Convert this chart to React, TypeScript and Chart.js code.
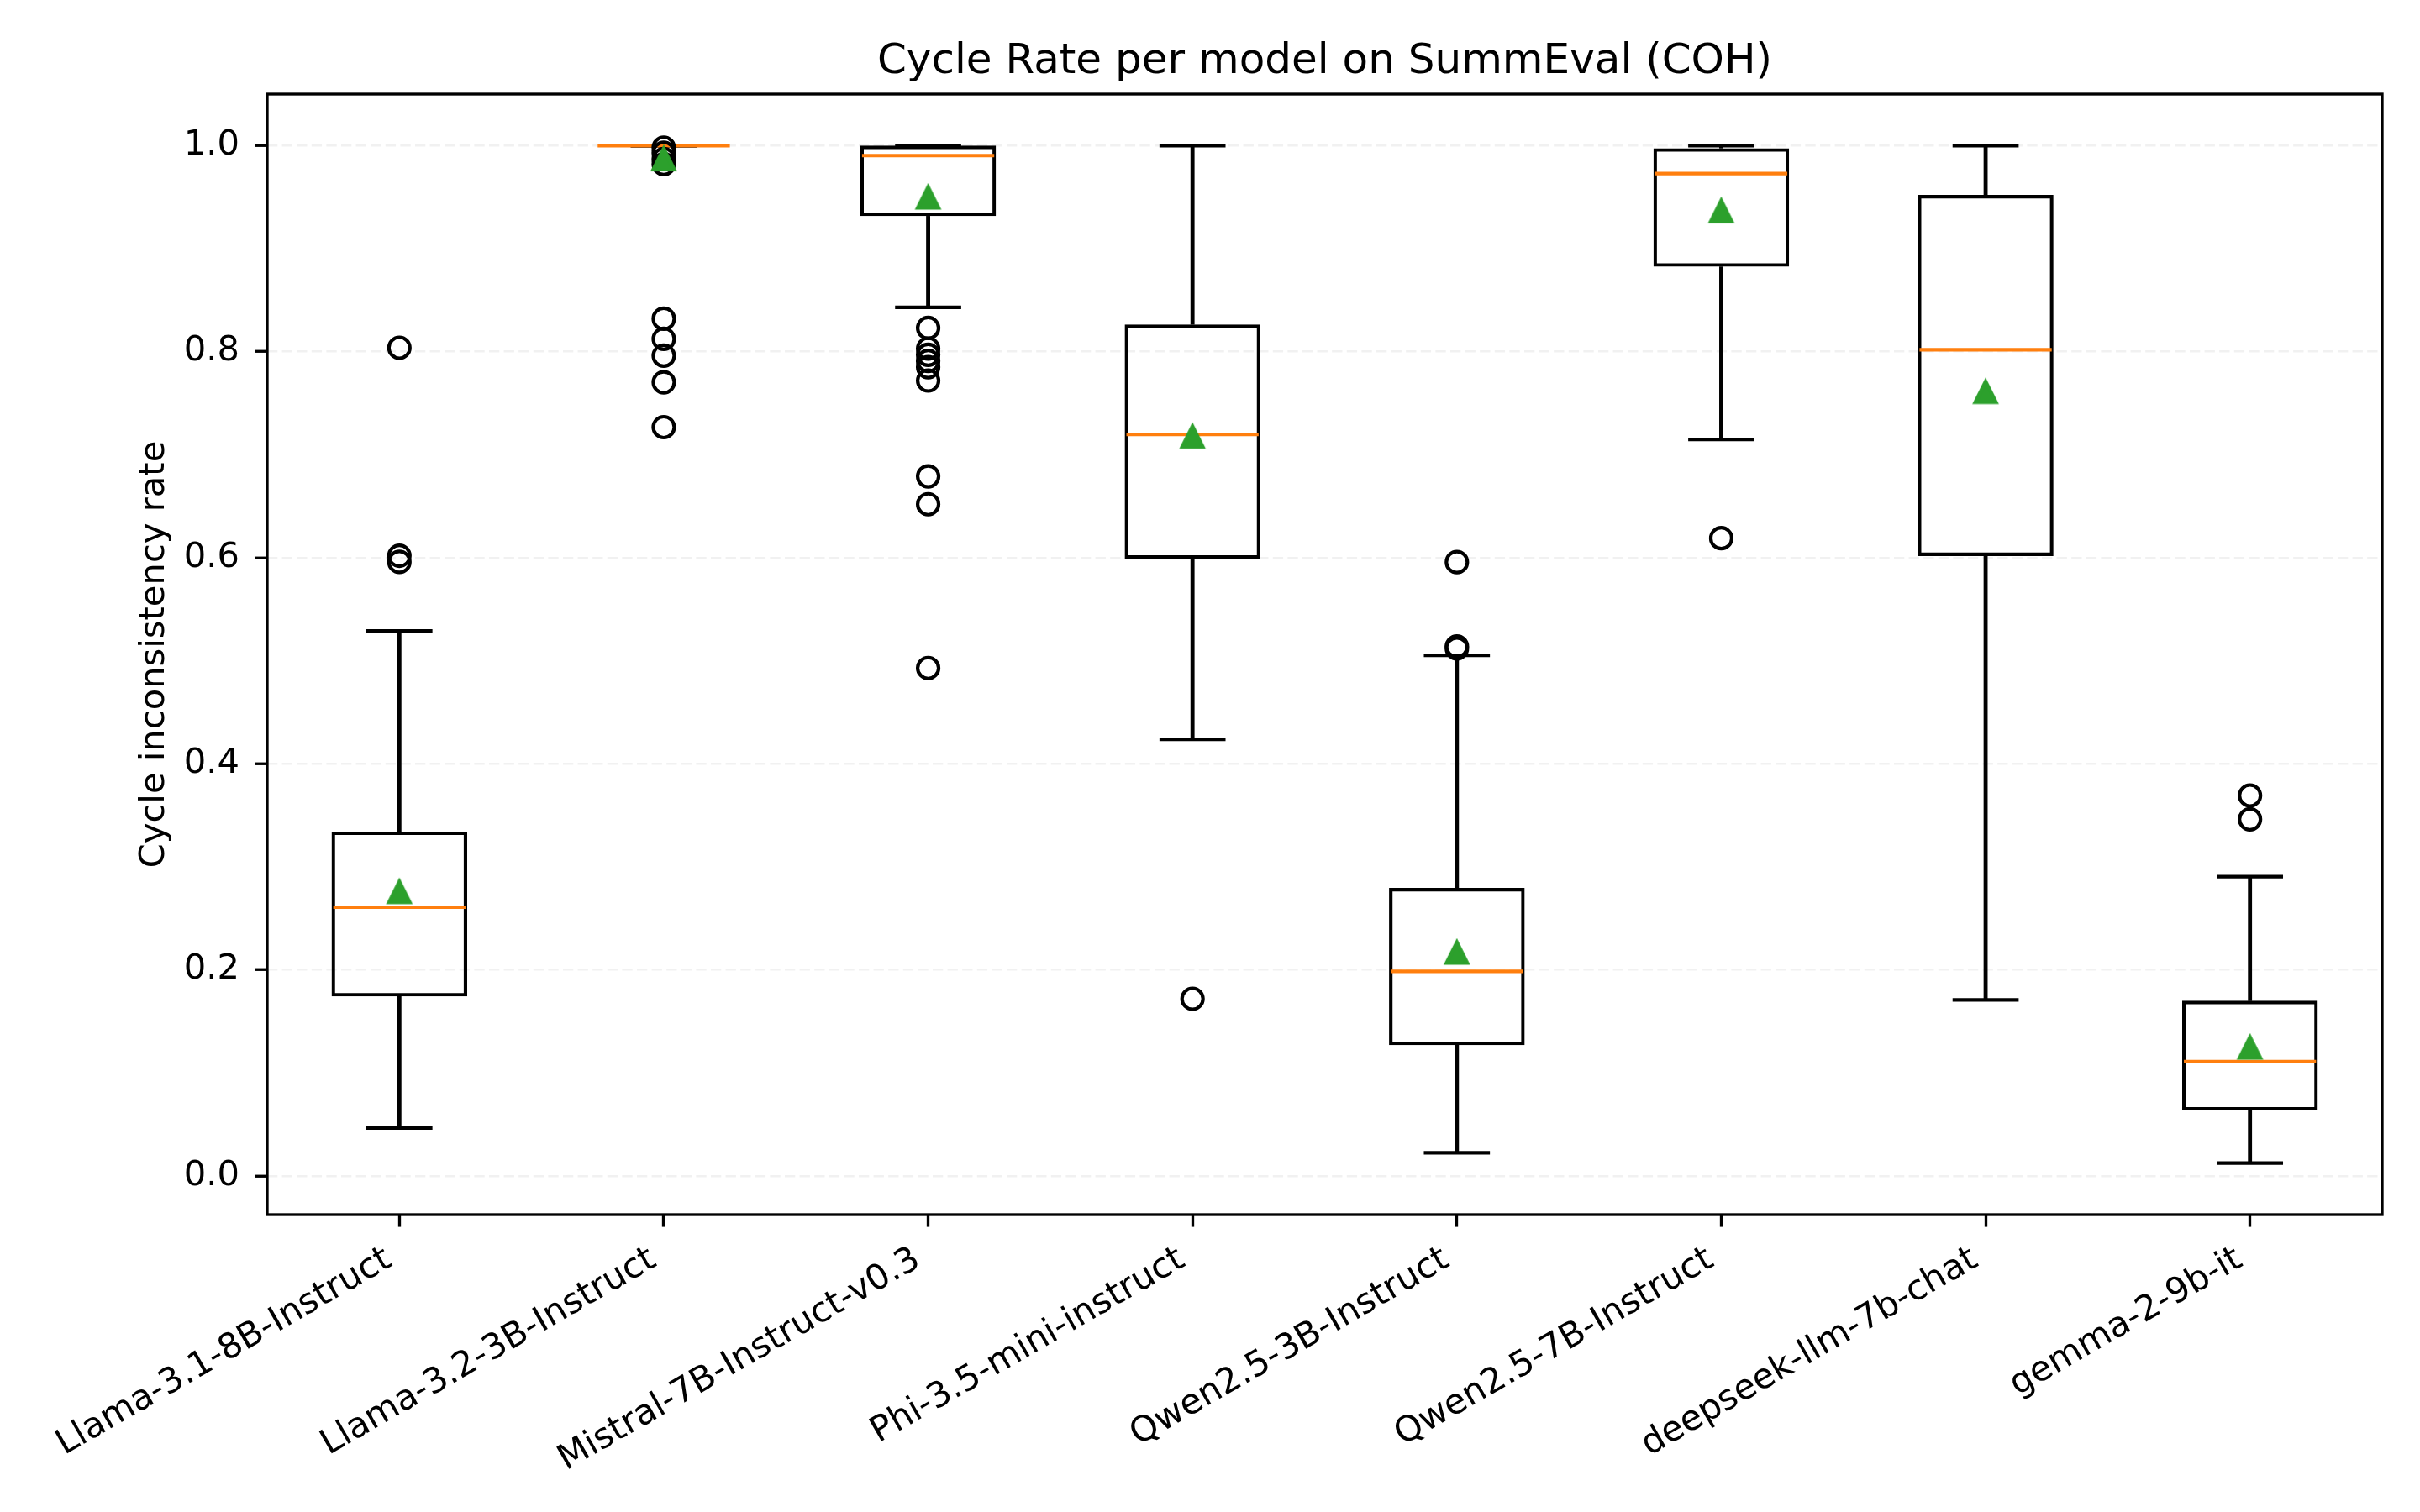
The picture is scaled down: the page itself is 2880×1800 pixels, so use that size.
import React, { useEffect, useRef } from 'react';
import { Chart, registerables } from 'chart.js';

Chart.register(...registerables);

// ---- data ----
const MODELS = [
  'Llama-3.1-8B-Instruct',
  'Llama-3.2-3B-Instruct',
  'Mistral-7B-Instruct-v0.3',
  'Phi-3.5-mini-instruct',
  'Qwen2.5-3B-Instruct',
  'Qwen2.5-7B-Instruct',
  'deepseek-llm-7b-chat',
  'gemma-2-9b-it',
];
const WHISKER_LOW = [0.0465, 1.0, 0.843, 0.4237, 0.0225, 0.7148, 0.1709, 0.0125];
const Q1 = [0.1742, 1.0, 0.9315, 0.599, 0.127, 0.8824, 0.6016, 0.0635];
const MEDIAN = [0.2609, 1.0, 0.9903, 0.7197, 0.1986, 0.9728, 0.8019, 0.1111];
const Q3 = [0.3343, 1.0, 1.0, 0.8265, 0.2796, 0.9975, 0.9522, 0.1701];
const WHISKER_HIGH = [0.529, 1.0, 1.0, 1.0, 0.5053, 1.0, 1.0, 0.2905];
const MEAN = [0.2757, 0.9871, 0.9497, 0.7176, 0.2168, 0.9366, 0.761, 0.1247];
const OUTLIERS: number[][] = [
  [0.8038, 0.602, 0.596],
  [0.998, 0.993, 0.987, 0.982, 0.832, 0.8124, 0.7961, 0.7703, 0.7268],
  [0.823, 0.803, 0.797, 0.791, 0.785, 0.772, 0.679, 0.652, 0.493],
  [0.172],
  [0.5958, 0.514, 0.512],
  [0.619],
  [],
  [0.3693, 0.3462],
];
const Y_TICKS = [0.0, 0.2, 0.4, 0.6, 0.8, 1.0];
const Y_MIN = -0.0375;
const Y_MAX = 1.05;

const TITLE = 'Cycle Rate per model on SummEval (COH)';
const Y_LABEL = 'Cycle inconsistency rate';

// ---- style ----
const PT = 300 / 72;
const LW = 1.0 * PT;
const SPINE_W = 0.8 * PT;
const TICK_LEN = 3.5 * PT;
const FONT = 'DejaVu Sans';
const ORANGE = '#ff7f0e';
const GREEN = '#2ca02c';

function makeTriangle(size: number, lw: number, color: string): HTMLCanvasElement {
  const dim = Math.ceil(size + 2 * lw + 4);
  const c = document.createElement('canvas');
  c.width = dim;
  c.height = dim;
  const ctx = c.getContext('2d')!;
  const cx = dim / 2;
  const h = size / 2;
  ctx.beginPath();
  ctx.moveTo(cx, cx - h);
  ctx.lineTo(cx - h, cx + h);
  ctx.lineTo(cx + h, cx + h);
  ctx.closePath();
  ctx.fillStyle = color;
  ctx.fill();
  ctx.lineWidth = lw;
  ctx.strokeStyle = color;
  ctx.stroke();
  return c;
}

const framePlugin = {
  id: 'frame',
  afterDraw(chart: any) {
    const { ctx, chartArea } = chart;
    const { left, top, right, bottom } = chartArea;
    ctx.save();
    ctx.strokeStyle = '#000';
    ctx.lineWidth = SPINE_W;
    ctx.strokeRect(left, top, right - left, bottom - top);
    ctx.restore();
  },
};

export default function App() {
  const ref = useRef<HTMLCanvasElement>(null);

  useEffect(() => {
    const tri = makeTriangle(6 * PT, LW, GREEN);
    const outlierPoints: { x: string; y: number }[] = [];
    OUTLIERS.forEach((arr, i) => arr.forEach((v) => outlierPoints.push({ x: MODELS[i], y: v })));

    const chart = new Chart(ref.current!, {
      type: 'bar',
      data: {
        labels: MODELS,
        datasets: [
          {
            type: 'bar',
            data: MODELS.map((_, i) => [WHISKER_LOW[i], Q1[i]]) as any,
            backgroundColor: '#000',
            borderWidth: 0,
            barThickness: LW,
            grouped: false,
            order: 6,
          } as any,
          {
            type: 'bar',
            data: MODELS.map((_, i) => [Q3[i], WHISKER_HIGH[i]]) as any,
            backgroundColor: '#000',
            borderWidth: 0,
            barThickness: LW,
            grouped: false,
            order: 6,
          } as any,
          {
            type: 'bar',
            data: MODELS.map((_, i) => [Q1[i], Q3[i]]) as any,
            backgroundColor: 'rgba(0,0,0,0)',
            borderColor: '#000',
            borderWidth: LW,
            borderSkipped: false,
            barPercentage: 0.5133,
            categoryPercentage: 1,
            grouped: false,
            order: 5,
          } as any,
          {
            type: 'line',
            data: [
              ...MODELS.map((m, i) => ({ x: m, y: WHISKER_LOW[i] })),
              ...MODELS.map((m, i) => ({ x: m, y: WHISKER_HIGH[i] })),
            ] as any,
            showLine: false,
            pointStyle: 'line',
            pointRadius: 0.125 * 314.6,
            pointBorderWidth: LW,
            pointBorderColor: '#000',
            pointBackgroundColor: '#000',
            order: 4,
          } as any,
          {
            type: 'line',
            data: MODELS.map((m, i) => ({ x: m, y: MEDIAN[i] })) as any,
            showLine: false,
            pointStyle: 'line',
            pointRadius: 0.25 * 314.6,
            pointBorderWidth: LW,
            pointBorderColor: ORANGE,
            pointBackgroundColor: ORANGE,
            order: 3,
          } as any,
          {
            type: 'line',
            data: outlierPoints as any,
            showLine: false,
            pointStyle: 'circle',
            pointRadius: 3 * PT,
            pointBorderWidth: LW,
            pointBorderColor: '#000',
            pointBackgroundColor: 'rgba(0,0,0,0)',
            order: 2,
          } as any,
          {
            type: 'line',
            data: MODELS.map((m, i) => ({ x: m, y: MEAN[i] })) as any,
            showLine: false,
            pointStyle: tri,
            pointRadius: 15,
            order: 1,
          } as any,
        ],
      },
      options: {
        animation: false,
        responsive: false,
        devicePixelRatio: 1,
        events: [],
        layout: { autoPadding: false, padding: { left: 0, right: 45, top: 0, bottom: 0 } },
        plugins: {
          legend: { display: false },
          tooltip: { enabled: false },
          title: {
            display: true,
            text: TITLE,
            color: '#000',
            font: { family: FONT, size: 12 * PT, weight: 'normal' },
            padding: { top: 44, bottom: 8 },
            fullSize: false,
          } as any,
        },
        scales: {
          x: {
            type: 'category',
            offset: true,
            afterFit: (scale: any) => {
              scale.height = 354;
              scale.paddingLeft = 0;
              scale.paddingRight = 0;
            },
            grid: {
              display: true,
              drawOnChartArea: false,
              drawTicks: true,
              tickLength: TICK_LEN,
              tickWidth: SPINE_W,
              tickColor: '#000',
              offset: false,
            },
            border: { display: false },
            ticks: {
              autoSkip: false,
              minRotation: 30,
              maxRotation: 30,
              color: '#000',
              font: { family: FONT, size: 10 * PT },
              padding: TICK_LEN,
              labelOffset: -12.5,
            },
          },
          y: {
            type: 'linear',
            min: Y_MIN,
            max: Y_MAX,
            afterFit: (scale: any) => {
              scale.width = 318;
              scale.paddingTop = 0;
              scale.paddingBottom = 0;
            },
            afterBuildTicks: (scale: any) => {
              scale.ticks = Y_TICKS.map((v) => ({ value: v }));
            },
            grid: {
              display: true,
              drawOnChartArea: true,
              color: '#f1f1f1',
              lineWidth: 2.5,
              drawTicks: true,
              tickLength: TICK_LEN,
              tickWidth: SPINE_W,
              tickColor: '#000',
              tickBorderDash: [],
            },
            border: { display: false, dash: [12.3, 5.3] },
            ticks: {
              color: '#000',
              font: { family: FONT, size: 10 * PT },
              padding: 18.4,
              callback: (v: any) => Number(v).toFixed(1),
            },
            title: {
              display: true,
              text: Y_LABEL,
              color: '#000',
              font: { family: FONT, size: 10 * PT },
              padding: { top: 159, bottom: 0 },
            },
          },
        },
      } as any,
      plugins: [framePlugin],
    });
    return () => chart.destroy();
  }, []);

  return (
    <div
      style={{
        position: 'fixed',
        left: 0,
        top: 0,
        width: 2880,
        height: 1800,
        background: '#fff',
      }}
    >
      <canvas
        ref={ref}
        width={2880}
        height={1800}
        style={{ display: 'block', width: 2880, height: 1800 }}
      />
    </div>
  );
}
